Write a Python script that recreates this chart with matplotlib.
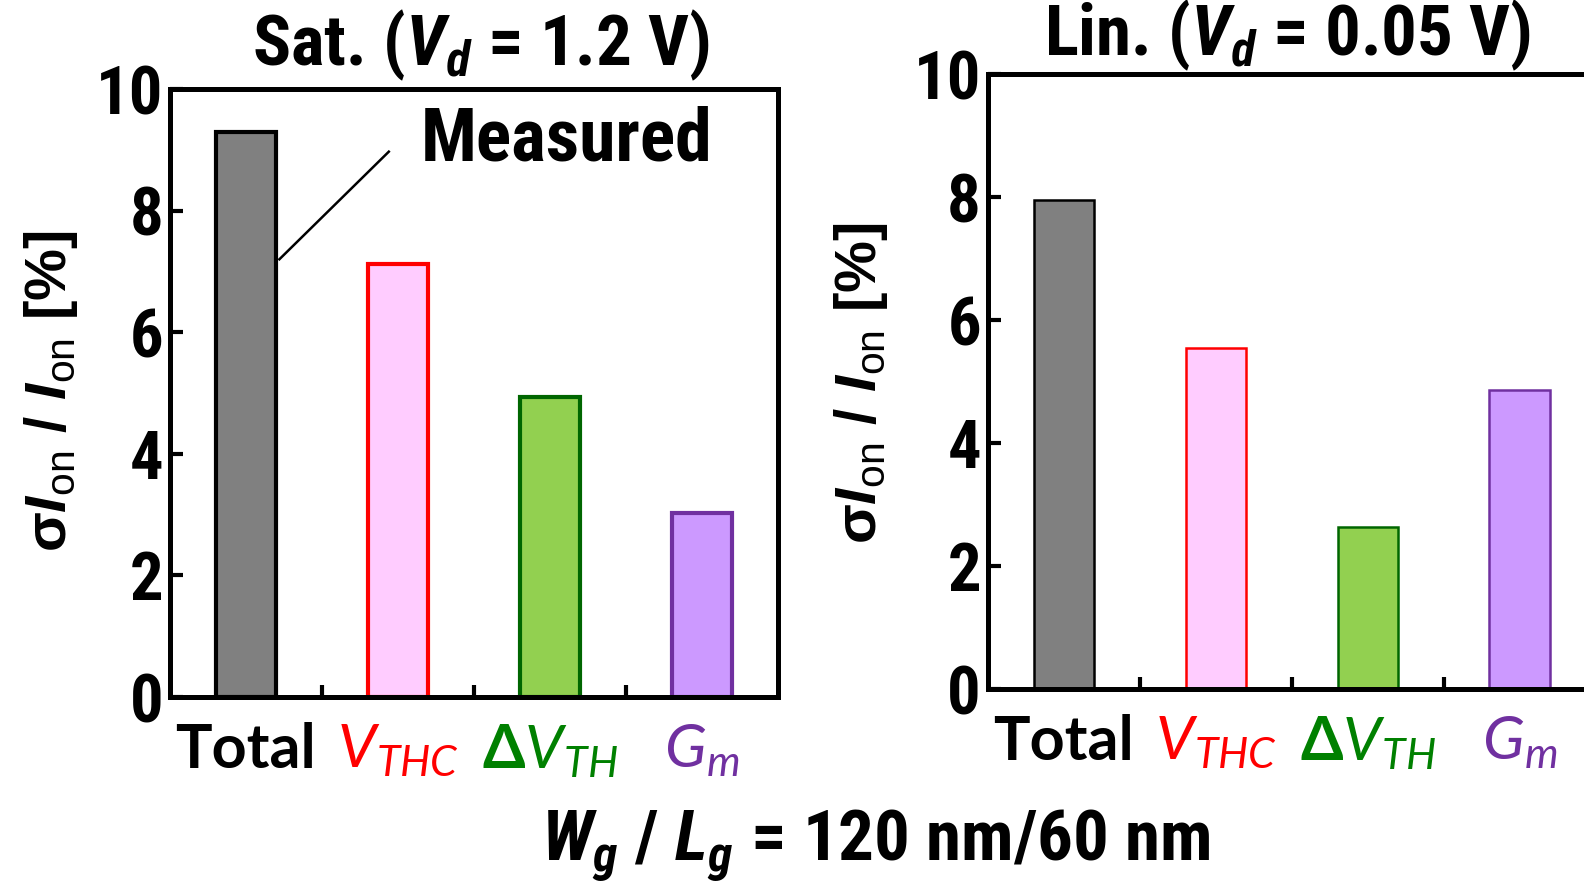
import matplotlib.pyplot as plt

# Шрифты для формул: узкий жирный курсив (заголовки), Lato курсив (подписи категорий)
plt.rcParams['mathtext.fontset'] = 'custom'
plt.rcParams['mathtext.it'] = 'Roboto Condensed:italic:bold'
plt.rcParams['mathtext.bfit'] = 'Liberation Sans:italic:bold'
plt.rcParams['mathtext.rm'] = 'Liberation Sans'
plt.rcParams['mathtext.sf'] = 'Lato:italic'

NARROW = ['Roboto Condensed', 'Liberation Sans', 'DejaVu Sans']

categories = ['Total', r'$\mathsf{V}_{\mathsf{THC}}$',
              r'Δ$\mathsf{V}_{\mathsf{TH}}$', r'$\mathsf{G}_{\mathsf{m}}$']
label_colors = ['black', '#ff0000', '#008000', '#7030a0']
fill_colors = ['#808080', '#ffccff', '#92d050', '#cc99ff']
edge_colors = ['black', '#ff0000', '#006600', '#7030a0']

sat_values = [9.3, 7.12, 4.93, 3.02]
lin_values = [7.95, 5.54, 2.64, 4.86]

yticks = [0, 2, 4, 6, 8, 10]
ylabel = r'σ$\mathbfit{I}_{\mathrm{on}}$ / $\mathbfit{I}_{\mathrm{on}}$ [%]'


def draw_panel(ax, values, edge_lw):
    x = range(len(values))
    ax.bar(x, values, width=0.4, color=fill_colors, edgecolor=edge_colors,
           linewidth=edge_lw, zorder=2)
    ax.set_xlim(-0.5, 3.5)
    ax.set_ylim(0, 10)
    for sp in ax.spines.values():
        sp.set_linewidth(3.6)
    ax.set_yticks(yticks)
    ax.set_yticklabels([str(t) for t in yticks], family=NARROW,
                       fontweight='bold', fontsize=48)
    ax.tick_params(axis='y', direction='in', length=9, width=3, pad=5)
    ax.set_xticks(list(x))
    ax.set_xticklabels(categories, fontsize=44, fontweight='bold')
    for lbl, c in zip(ax.get_xticklabels(), label_colors):
        lbl.set_color(c)
        lbl.set_family(['Lato', 'DejaVu Sans'])
    ax.set_xticks([0.5, 1.5, 2.5], minor=True)
    ax.tick_params(axis='x', which='major', length=0, pad=18)
    ax.tick_params(axis='x', which='minor', direction='in', length=9, width=3)


fig = plt.figure(figsize=(15.84, 8.86), dpi=100)

ax1 = fig.add_axes([0.1073, 0.2133, 0.3838, 0.6862])
draw_panel(ax1, sat_values, 3)

ax2 = fig.add_axes([0.6237, 0.2223, 0.3838, 0.694])
draw_panel(ax2, lin_values, 1.8)

# Выноска "Measured"
ax1.plot([0.94, 0.22], [8.97, 7.2], color='black', lw=1.8, zorder=3)
ax1.text(1.15, 9.15, 'Measured', family=NARROW, fontweight='bold',
         fontsize=53, ha='left', va='center')

fig.text(0.3037, 0.9486, r'Sat. ($\mathit{V}_{\mathit{d}}$ = 1.2 V)',
         family=NARROW, fontweight='bold', fontsize=51, ha='center', va='center')
fig.text(0.813, 0.96, r'Lin. ($\mathit{V}_{\mathit{d}}$ = 0.05 V)',
         family=NARROW, fontweight='bold', fontsize=51, ha='center', va='center')

fig.text(0.032, 0.559, ylabel, family=['Liberation Sans', 'DejaVu Sans'],
         fontweight='bold', fontsize=42, rotation=90, ha='center', va='center')
fig.text(0.5433, 0.567, ylabel, family=['Liberation Sans', 'DejaVu Sans'],
         fontweight='bold', fontsize=42, rotation=90, ha='center', va='center')

fig.text(0.553, 0.046,
         r'$\mathit{W}_{\mathit{g}}$ / $\mathit{L}_{\mathit{g}}$ = 120 nm/60 nm',
         family=NARROW, fontweight='bold', fontsize=51, ha='center', va='center')

fig.savefig('out.png', dpi=100)
